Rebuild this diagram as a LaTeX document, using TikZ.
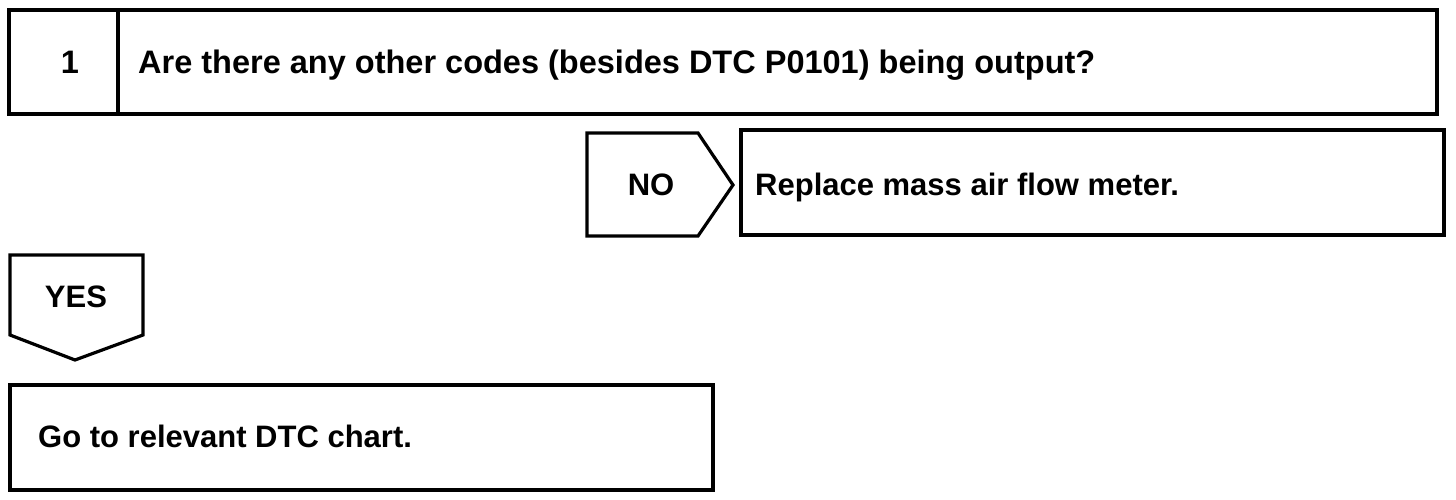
\documentclass[tikz,border=0pt]{standalone}
\usepackage{fontspec}
\setmainfont{Liberation Sans}
\begin{document}
\begin{tikzpicture}[x=1pt,y=-1pt,
  frame/.style={draw=black,line width=3.2pt,line join=miter},
  lbl/.style={inner sep=0pt,font=\bfseries\fontsize{31}{36}\selectfont},
  bigl/.style={inner sep=0pt,font=\bfseries\fontsize{32.5}{38}\selectfont}]
\useasboundingbox[fill=white] (0,0) rectangle (1456,500);
% top question box
\draw[frame] (9,10) rectangle (1437,114);
\draw[frame] (118,10) -- (118,114);
\node[bigl,anchor=base] (num) at (70,74) {1};
\node[bigl,anchor=base west] (q) at (138,74) {Are there any other codes (besides DTC P0101) being output?};
% NO tag
\draw[frame] (587,133) -- (698,133) -- (733,185) -- (698,236) -- (587,236) -- cycle;
\node[lbl,anchor=base] (no) at (651,195) {NO};
% NO result box
\draw[frame] (741,130) rectangle (1444,235);
\node[lbl,anchor=base west] (rep) at (755,195) {Replace mass air flow meter.};
% YES tag
\draw[frame] (10,255) -- (143,255) -- (143,335) -- (75,360) -- (10,335) -- cycle;
\node[lbl,anchor=base] (yes) at (76,307) {YES};
% YES result box
\draw[frame] (10,385) rectangle (713,490);
\node[lbl,anchor=base west] (go) at (38,447) {Go to relevant DTC chart.};
\end{tikzpicture}
\end{document}
